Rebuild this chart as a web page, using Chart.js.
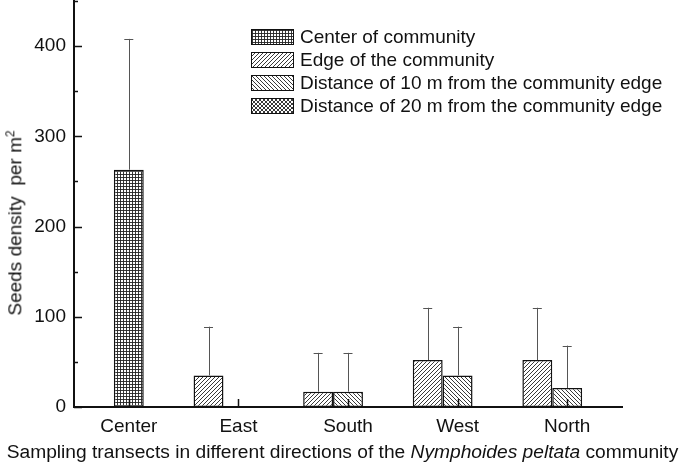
<!DOCTYPE html>
<html>
<head>
<meta charset="utf-8">
<script src="https://cdn.jsdelivr.net/npm/chart.js@4.4.1/dist/chart.umd.min.js"></script>
<style>
body { margin: 0; background: #fff; }
#wrap { position: relative; width: 685px; height: 468px; font-family: 'Liberation Sans', Arial, sans-serif; color: #111; }
#yTitle { position: absolute; left: 15px; top: 223px; transform: translate(-50%, -50%) rotate(-90deg); white-space: nowrap; font-size: 19px; }
#yTitle sup { font-size: 12px; }
#xTitle { position: absolute; left: 0; width: 685px; top: 441px; text-align: center; white-space: nowrap; font-size: 19.2px; }
</style>
</head>
<body>
<div id="wrap">
  <canvas id="seeds-chart" width="685" height="468"></canvas>
  <div id="yTitle">Seeds density&nbsp; per m<sup>2</sup></div>
  <div id="xTitle">Sampling transects in different directions of the <i>Nymphoides peltata</i> community</div>
</div>
<script>
var categories = ['Center', 'East', 'South', 'West', 'North'];
var seriesNames = ['Center of community', 'Edge of the community',
    'Distance of 10 m from the community edge', 'Distance of 20 m from the community edge'];

// mean seed density and upper error (SD) per transect
var centerMean = [263, null, null, null, null];
var centerErr = [145, null, null, null, null];
var edgeMean = [null, 35, 17, 52, 52];
var edgeErr = [null, 54, 43, 58, 58];
var dist10Mean = [null, null, 17, 35, 21];
var dist10Err = [null, null, 43, 54, 47];
var dist20Mean = [null, null, null, null, null];
var dist20Err = [null, null, null, null, null];

var yTicks = [0, 100, 200, 300, 400];

function makePattern(kind) {
    var s = kind === 'grid' ? 3 : 4;
    var c = document.createElement('canvas');
    c.width = s; c.height = s;
    var g = c.getContext('2d');
    g.fillStyle = '#fff';
    g.fillRect(0, 0, s, s);
    g.strokeStyle = '#222';
    g.lineWidth = 0.9;
    g.beginPath();
    if (kind === 'grid') {
        g.moveTo(0, 0.5); g.lineTo(s, 0.5);
        g.moveTo(0.5, 0); g.lineTo(0.5, s);
    }
    if (kind === 'fwd' || kind === 'cross') {
        g.moveTo(-1, s + 1); g.lineTo(s + 1, -1);
        g.moveTo(-1, 1); g.lineTo(1, -1);
        g.moveTo(s - 1, s + 1); g.lineTo(s + 1, s - 1);
    }
    if (kind === 'back' || kind === 'cross') {
        g.moveTo(-1, -1); g.lineTo(s + 1, s + 1);
        g.moveTo(s - 1, -1); g.lineTo(s + 1, 1);
        g.moveTo(-1, s - 1); g.lineTo(1, s + 1);
    }
    g.stroke();
    return g.createPattern(c, 'repeat');
}

var errors = [centerErr, edgeErr, dist10Err, dist20Err];

var errorBars = {
    id: 'errorBars',
    afterDatasetsDraw: function (chart) {
        var ctx = chart.ctx;
        var y = chart.scales.y;
        ctx.save();
        ctx.strokeStyle = '#555';
        ctx.lineWidth = 1;
        chart.data.datasets.forEach(function (ds, di) {
            var meta = chart.getDatasetMeta(di);
            ds.data.forEach(function (v, i) {
                var e = errors[di][i];
                if (v === null || e === null) return;
                var el = meta.data[i];
                var top = y.getPixelForValue(v + e);
                ctx.beginPath();
                ctx.moveTo(Math.round(el.x) + 0.5, el.y);
                ctx.lineTo(Math.round(el.x) + 0.5, top);
                ctx.moveTo(el.x - 4.5, Math.round(top) + 0.5);
                ctx.lineTo(el.x + 4.5, Math.round(top) + 0.5);
                ctx.stroke();
            });
        });
        ctx.restore();
    }
};

var innerTicks = {
    id: 'innerTicks',
    afterDraw: function (chart) {
        var ctx = chart.ctx, a = chart.chartArea;
        var x = chart.scales.x, y = chart.scales.y;
        ctx.save();
        ctx.strokeStyle = '#111';
        ctx.lineWidth = 1.5;
        ctx.beginPath();
        y.ticks.forEach(function (t) {
            var py = Math.round(y.getPixelForValue(t.value)) + 0.5;
            var len = t.value % 100 === 0 ? 8 : 4;
            ctx.moveTo(a.left, py);
            ctx.lineTo(a.left + len, py);
        });
        categories.forEach(function (c, i) {
            var px = Math.round(x.getPixelForTick(i)) + 0.5;
            ctx.moveTo(px, a.bottom);
            ctx.lineTo(px, a.bottom - 8);
        });
        ctx.stroke();
        ctx.restore();
    }
};

var boxLegend = {
    id: 'boxLegend',
    afterDraw: function (chart) {
        var ctx = chart.ctx, a = chart.chartArea;
        var left = a.left + 177, top = a.top + 28;
        ctx.save();
        ctx.font = '19px "Liberation Sans", Arial, sans-serif';
        ctx.textBaseline = 'middle';
        chart.data.datasets.forEach(function (ds, i) {
            var by = top + i * 23;
            ctx.fillStyle = ds.backgroundColor;
            ctx.fillRect(left, by, 42, 15);
            ctx.strokeStyle = '#111';
            ctx.lineWidth = 1;
            ctx.strokeRect(left + 0.5, by + 0.5, 42, 15);
            ctx.fillStyle = '#111';
            ctx.fillText(ds.label, left + 49, by + 8.5);
        });
        ctx.restore();
    }
};

const seedsChart = document.getElementById('seeds-chart');

var chart = new Chart(seedsChart, {
    type: 'bar',
    data: {
        labels: categories,
        datasets: [{
            label: seriesNames[0],
            data: centerMean,
            stack: 'mid',
            order: 1,
            backgroundColor: makePattern('grid')
        }, {
            label: seriesNames[1],
            data: edgeMean,
            stack: 'left',
            order: 0,
            backgroundColor: makePattern('fwd')
        }, {
            label: seriesNames[2],
            data: dist10Mean,
            stack: 'mid',
            order: 1,
            backgroundColor: makePattern('back')
        }, {
            label: seriesNames[3],
            data: dist20Mean,
            stack: 'right',
            order: 1,
            backgroundColor: makePattern('cross')
        }]
    },
    options: {
        responsive: false,
        animation: false,
        layout: {
            padding: { top: 1, right: 63, left: 0, bottom: 0 }
        },
        datasets: {
            bar: {
                borderColor: '#111',
                borderWidth: 1.5,
                borderSkipped: false,
                categoryPercentage: 0.818,
                barPercentage: 1
            }
        },
        plugins: {
            legend: { display: false },
            tooltip: { enabled: false }
        },
        scales: {
            x: {
                grid: { display: false, drawTicks: false },
                border: { color: '#111', width: 2 },
                ticks: {
                    color: '#111',
                    padding: 8,
                    font: { family: "'Liberation Sans', Arial, sans-serif", size: 19 }
                },
                afterFit: function (scale) {
                    scale.height = 61;
                    scale.paddingLeft = 0;
                    scale.paddingRight = 0;
                }
            },
            y: {
                min: 0,
                max: 450,
                grid: { display: false, drawTicks: false },
                border: { color: '#111', width: 2 },
                ticks: {
                    stepSize: 50,
                    includeBounds: false,
                    autoSkip: false,
                    color: '#111',
                    padding: 8,
                    font: { family: "'Liberation Sans', Arial, sans-serif", size: 19 },
                    callback: function (v) { return yTicks.indexOf(v) >= 0 ? v : ''; }
                },
                afterFit: function (scale) {
                    scale.width = 74;
                    scale.paddingTop = 0;
                    scale.paddingBottom = 0;
                }
            }
        }
    },
    plugins: [errorBars, innerTicks, boxLegend]
});
</script>
</body>
</html>
